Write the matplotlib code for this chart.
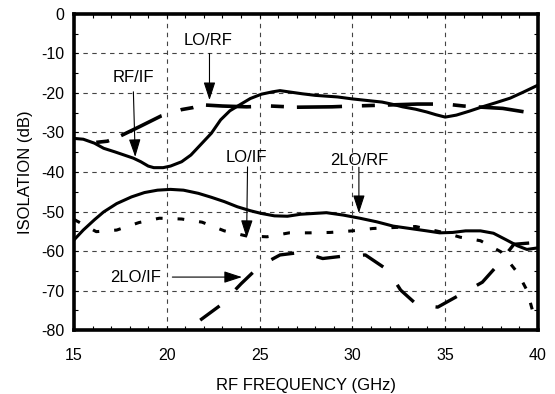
import matplotlib
matplotlib.use('Agg')
from matplotlib import pyplot as plt
from matplotlib.ticker import MultipleLocator

plt.rcParams['font.family'] = ['Liberation Sans', 'DejaVu Sans']
plt.rcParams['axes.unicode_minus'] = False

# curves (GHz, dB)
rf_if_x = [15.0, 15.5, 16.1, 16.6, 17.2, 17.7, 18.2, 18.6, 19.0, 19.3, 19.8, 20.2, 20.8, 21.3, 21.8,
           22.4, 22.9, 23.4, 24.0, 24.5, 25.1, 25.7, 26.1, 27.3, 28.0, 29.2, 30.0, 31.0, 31.6, 32.2,
           32.7, 33.4, 34.0, 34.5, 35.0, 35.6, 36.3, 37.0, 37.7, 38.5, 39.2, 40.0]
rf_if_y = [-31.5, -31.7, -32.7, -34.0, -34.9, -35.7, -36.5, -37.4, -38.5, -38.9, -38.9, -38.5, -37.4, -35.7, -33.2,
           -30.2, -26.8, -24.5, -22.8, -21.4, -20.3, -19.7, -19.4, -20.2, -20.6, -21.0, -21.5, -22.0, -22.3, -22.9,
           -23.5, -24.1, -24.8, -25.5, -26.1, -25.6, -24.6, -23.5, -22.5, -21.3, -19.8, -18.0]

lo_rf_x = [16.2, 16.8, 17.4, 18.5, 19.7, 20.8, 21.4, 21.9, 23.0, 24.3, 25.6, 27.0, 28.9, 30.0,
           31.5, 33.5, 35.0, 36.0, 37.0, 38.1, 39.3, 40.0]
lo_rf_y = [-32.5, -32.2, -31.1, -28.6, -25.8, -24.2, -23.7, -23.0, -23.3, -23.5, -23.3, -23.6, -23.5, -23.3,
           -23.1, -22.8, -22.8, -23.3, -23.6, -23.9, -24.8, -25.0]

lo_if_x = [15.0, 16.2, 17.3, 18.5, 19.6, 20.8, 21.9, 23.1, 24.3, 25.4, 26.6, 27.7, 28.8, 30.0,
           31.1, 33.4, 35.0, 35.8, 36.9, 38.0, 38.9, 39.4, 39.7, 40.0]
lo_if_y = [-52.0, -55.1, -54.7, -52.8, -51.7, -51.9, -52.7, -54.9, -56.2, -56.4, -55.4, -55.4, -55.3, -54.9,
           -54.3, -53.8, -55.4, -56.5, -57.4, -60.2, -65.5, -69.9, -75.0, -78.0]

lo2_rf_x = [15.0, 15.5, 16.1, 16.6, 17.3, 18.1, 18.8, 19.5, 20.2, 20.9, 21.7, 22.4, 23.1, 23.8, 24.5,
            25.1, 25.8, 26.5, 27.2, 27.9, 28.6, 29.5, 30.4, 31.3, 32.2, 33.1, 34.0, 34.7, 35.4, 36.1,
            36.9, 37.6, 38.3, 38.9, 39.4, 40.0]
lo2_rf_y = [-57.2, -54.7, -52.1, -50.1, -48.0, -46.3, -45.2, -44.6, -44.4, -44.6, -45.4, -46.4, -47.5, -48.8, -49.8,
            -50.5, -51.1, -51.2, -50.7, -50.5, -50.3, -50.9, -51.7, -52.6, -53.7, -54.3, -54.9, -55.4, -55.3, -54.9,
            -54.9, -55.5, -57.2, -58.7, -59.6, -59.2]

lo2_if_x = [21.8, 22.9, 24.0, 25.0, 26.1, 27.3, 28.4, 29.5, 30.7, 31.9, 32.6, 33.5, 34.6, 35.9,
            37.0, 37.8, 38.7, 40.0]
lo2_if_y = [-77.5, -73.7, -68.3, -63.8, -61.0, -60.3, -61.9, -61.3, -61.0, -64.8, -69.9, -73.7, -74.2, -70.8,
            -67.9, -63.7, -58.3, -57.8]

fig = plt.figure(figsize=(5.55, 3.94), dpi=100)
ax = fig.add_axes([0.1333, 0.1624, 0.8361, 0.8021])

ax.plot(rf_if_x, rf_if_y, color='black', lw=2.2)
ax.plot(lo2_rf_x, lo2_rf_y, color='black', lw=2.2)
ax.plot(lo_rf_x, lo_rf_y, color='black', lw=2.6, linestyle=(0, (3.6, 3.6, 12.5, 5.5)))
ax.plot(lo_if_x, lo_if_y, color='black', lw=2.2, linestyle=(0, (2.2, 4.9)))
ax.plot(lo2_if_x, lo2_if_y, color='black', lw=2.4, linestyle=(0, (7.2, 6.9)))

ax.set_xlim(15, 40)
ax.set_ylim(-80, 0)
ax.xaxis.set_major_locator(MultipleLocator(5))
ax.xaxis.set_minor_locator(MultipleLocator(1))
ax.yaxis.set_major_locator(MultipleLocator(10))
ax.yaxis.set_minor_locator(MultipleLocator(5))
ax.tick_params(which='both', direction='in', top=True, right=True, length=3, width=0.8,
               labelsize=11.5)
ax.tick_params(axis='x', pad=13)
ax.tick_params(axis='y', pad=7)
ax.grid(True, which='major', color='#444444', lw=0.8, linestyle=(0, (4, 4)))
for sp in ax.spines.values():
    sp.set_linewidth(2.6)

ax.set_xlabel('RF FREQUENCY (GHz)', fontsize=12, labelpad=11)
ax.set_ylabel('ISOLATION (dB)', fontsize=12, labelpad=6)

arrow = dict(arrowstyle='-|>,head_length=1.1,head_width=0.36', color='black', lw=0.8,
             shrinkA=0, shrinkB=0, mutation_scale=10)
ax.text(22.2, -6.6, 'LO/RF', fontsize=12, ha='center', va='center')
ax.annotate('', xy=(22.3, -21.8), xytext=(22.3, -10), arrowprops=arrow)
ax.text(18.2, -16, 'RF/IF', fontsize=12, ha='center', va='center')
ax.annotate('', xy=(18.3, -36.2), xytext=(18.2, -19.7), arrowprops=arrow)
ax.text(24.3, -36.3, 'LO/IF', fontsize=12, ha='center', va='center')
ax.annotate('', xy=(24.3, -56.7), xytext=(24.35, -38.7), arrowprops=arrow)
ax.text(30.35, -37.0, '2LO/RF', fontsize=12, ha='center', va='center')
ax.annotate('', xy=(30.35, -50.4), xytext=(30.35, -38.8), arrowprops=arrow)
ax.text(18.3, -66.6, '2LO/IF', fontsize=12, ha='center', va='center')
ax.annotate('', xy=(24.05, -66.6), xytext=(20.3, -66.6), arrowprops=arrow)

plt.savefig('out.png', dpi=100)
